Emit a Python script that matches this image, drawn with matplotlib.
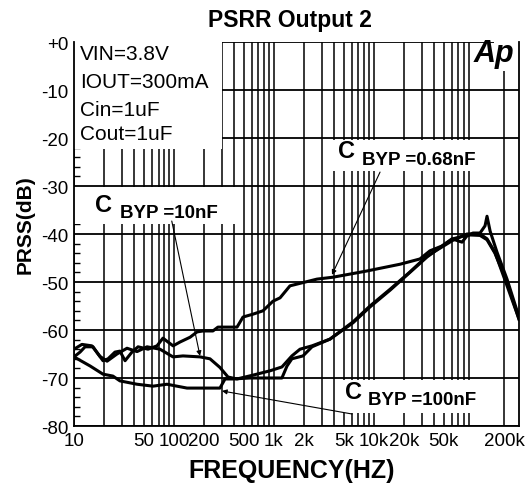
import matplotlib
matplotlib.use("Agg")
import matplotlib.pyplot as plt
from matplotlib.patches import Rectangle
from matplotlib.ticker import FixedLocator, LogLocator, MultipleLocator, NullFormatter

plt.rcParams['font.family'] = ['Liberation Sans', 'DejaVu Sans']

# C_BYP = 0.68nF
freq_068 = [10, 11.5, 12.9, 15.5, 17.4, 19.5, 21.9, 25.7, 28.8, 32.4, 38, 43.7, 55, 67.6,
            77.6, 87, 98, 115, 145, 170, 195, 245, 275, 339, 427, 490, 617, 776, 977,
            1150, 1445, 2690, 3890, 8510, 18200, 28800, 36300, 47900, 60300, 75900,
            85100, 97700, 115000, 129000, 135000, 145000, 170000, 214000, 282000]
db_068 = [-65.6, -64.6, -63.5, -63.5, -65.0, -66.4, -66.0, -64.6, -64.4, -66.4, -64.6, -63.5,
          -64.0, -63.3, -61.7, -62.5, -63.3, -62.5, -61.5, -60.4, -60.2, -60.2, -59.4, -59.4,
          -59.4, -57.3, -56.7, -56.0, -54.0, -53.3, -50.8, -49.4, -49.0, -47.7, -46.3, -45.2,
          -43.5, -42.5, -41.0, -41.7, -40.4, -39.8, -39.8, -38.3, -36.3, -39.4, -43.8, -49.4,
          -57.3]

# C_BYP = 10nF
freq_10n = [10, 12, 15.1, 18.2, 21.4, 26.9, 33.9, 42.7, 53.7, 72.4, 97.7, 123, 182, 229,
            288, 347, 427, 617, 912, 1200, 1510, 1820, 2400, 3630, 6170, 9120, 14500,
            22900, 33900, 47900, 61700, 75900, 91200, 115000, 135000, 162000, 214000, 282000]
db_10n = [-64.0, -63.0, -63.3, -65.5, -66.5, -65.0, -63.8, -64.5, -63.5, -64.0, -65.6, -65.4,
          -65.6, -66.0, -67.8, -69.8, -70.2, -69.4, -68.5, -67.7, -65.4, -64.0, -63.3, -61.9,
          -58.5, -55.2, -51.7, -48.0, -44.8, -42.5, -41.0, -40.5, -40.2, -40.3, -41.2, -44.0,
          -50.0, -57.8]

# C_BYP = 100nF
freq_100n = [10, 14.5, 19.5, 24.5, 28.8, 42.7, 61.7, 85.1, 107, 135, 195, 288, 324, 389,
             575, 1200, 1350, 1510, 1950, 2400, 3630, 6170, 9120, 14500, 22900, 33900,
             47900, 61700, 85100, 115000, 135000, 162000, 282000]
db_100n = [-65.6, -67.5, -69.2, -69.6, -70.6, -71.3, -71.7, -71.3, -71.7, -72.1, -72.1, -72.1,
           -70.2, -70.2, -70.0, -70.0, -67.5, -66.0, -65.4, -63.5, -61.9, -58.3, -55.0, -51.5,
           -47.9, -44.6, -42.7, -41.3, -40.0, -40.0, -41.0, -43.8, -57.7]

xticks = [10, 50, 100, 200, 500, 1000, 2000, 5000, 10000, 20000, 50000, 200000]
xlabels = ['10', '50', '100', '200', '500', '1k', '2k', '5k', '10k', '20k', '50k', '200k']
yticks = [0, -10, -20, -30, -40, -50, -60, -70, -80]
ylabels = ['+0', '-10', '-20', '-30', '-40', '-50', '-60', '-70', '-80']

W, H = 528, 485


def fx(x):
    return x / W


def fy(y):
    return 1 - y / H


fig = plt.figure(figsize=(5.28, 4.85), dpi=100)
ax = fig.add_axes([fx(74), fy(427), fx(519) - fx(74), fy(43) - fy(427)])

ax.plot(freq_068, db_068, color='black', lw=2.2, zorder=3)
ax.plot(freq_10n, db_10n, color='black', lw=2.2, zorder=3)
ax.plot(freq_100n, db_100n, color='black', lw=2.2, zorder=3)

ax.set_xscale('log')
ax.set_xlim(10, 282000)
ax.set_ylim(-80, 0)

ax.xaxis.set_major_locator(FixedLocator(xticks))
ax.set_xticklabels(xlabels, fontsize=13.5)
ax.xaxis.set_minor_locator(LogLocator(base=10, subs=range(2, 10)))
ax.xaxis.set_minor_formatter(NullFormatter())
ax.set_yticks(yticks)
ax.set_yticklabels(ylabels, fontsize=13.5)
ax.yaxis.set_minor_locator(MultipleLocator(2))

ax.tick_params(axis='both', which='major', length=0, pad=4)
ax.tick_params(axis='x', which='minor', length=0)
ax.tick_params(axis='y', which='minor', direction='in', length=4, width=1)

ax.set_axisbelow(True)
ax.grid(True, axis='x', which='both', color='black', lw=1.1)
ax.grid(True, axis='y', which='major', color='black', lw=1.3)

for s in ['left', 'bottom', 'right']:
    ax.spines[s].set_linewidth(1.3)
ax.spines['top'].set_visible(False)

# white boxes behind the labels
for x0, x1, y0, y1 in [(10, 302, -22.3, 0), (10, 457, -37.9, -30.3),
                       (3630, 151000, -26.9, -20.4), (4900, 145000, -77.3, -70.4),
                       (160000, 282000, -6.0, 0)]:
    ax.add_patch(Rectangle((x0, y0), x1 - x0, y1 - y0, facecolor='white',
                           edgecolor='none', zorder=1))

arrow = dict(arrowstyle='-|>', lw=0.8, color='black', mutation_scale=7, shrinkA=0, shrinkB=0)
ax.annotate('', xy=(182, -65.4), xytext=(95, -37.3), arrowprops=arrow, zorder=4)
ax.annotate('', xy=(3800, -48.5), xytext=(11500, -27.1), arrowprops=arrow, zorder=4)
ax.annotate('', xy=(302, -72.7), xytext=(6030, -77.5), arrowprops=arrow, zorder=4)

# labels
fig.text(fx(290), fy(20), 'PSRR Output 2', ha='center', va='center', fontsize=16.5, fontweight='bold')
fig.text(fx(292), fy(471), 'FREQUENCY(HZ)', ha='center', va='center', fontsize=18, fontweight='bold')
fig.text(fx(25), fy(225), 'PRSS(dB)', ha='center', va='center', rotation=90, fontsize=15, fontweight='bold')

for txt, y in [('VIN=3.8V', 55), ('IOUT=300mA', 83), ('Cin=1uF', 110), ('Cout=1uF', 135)]:
    fig.text(fx(80), fy(y), txt, ha='left', va='center', fontsize=15)

fig.text(fx(514), fy(54), 'Ap', ha='right', va='center', fontsize=22, fontweight='bold', style='italic')

for cx, cy, lx, ly, val in [(95, 205, 120, 214, '10nF'), (338, 152, 362, 161, '0.68nF'),
                            (345, 393, 368, 401, '100nF')]:
    fig.text(fx(cx), fy(cy), 'C', ha='left', va='center', fontsize=17, fontweight='bold')
    fig.text(fx(lx), fy(ly), 'BYP =' + val, ha='left', va='center', fontsize=13.5, fontweight='bold')

fig.savefig('out.png', dpi=100)
